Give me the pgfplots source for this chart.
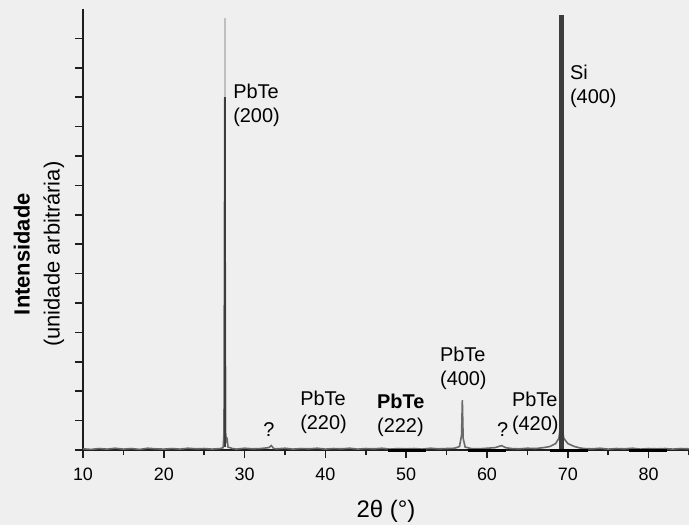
\documentclass[border=0pt]{standalone}
\usepackage{fontspec}
\setmainfont{Liberation Sans}
\usepackage{pgfplots}
\pgfplotsset{compat=1.18}
\definecolor{bg}{RGB}{239,239,239}
\definecolor{trace}{RGB}{105,105,105}
\definecolor{peak}{RGB}{60,60,60}
\definecolor{axcol}{RGB}{30,30,30}

\begin{document}
\begin{tikzpicture}
\fill[bg] (0,0) rectangle (344.5bp,262.5bp);
\begin{axis}[
  at={(41.5bp,37.5bp)}, anchor=south west,
  scale only axis, width=303bp, height=220.5bp,
  xmin=10, xmax=85, ymin=0, ymax=15,
  axis x line=bottom, axis y line=left,
  axis line style={axcol, line width=0.8bp, -},
  xtick={10,20,...,80}, minor xtick={15,25,...,85},
  ytick={0,...,14}, yticklabels={},
  tick align=outside,
  major tick length=4bp, minor tick length=2.5bp,
  tick style={axcol, line width=0.8bp},
  /pgf/number format/assume math mode=true,
  xticklabel style={font=\fontsize{9}{10}\selectfont, yshift=-1.5bp},
  xlabel={2θ (°)},
  xlabel style={font=\fontsize{12}{14}\selectfont, at={(rel axis cs:0.5,0)}, anchor=center, yshift=-30.5bp},
  ylabel={\textbf{Intensidade}\\(unidade arbitrária)},
  ylabel style={font=\fontsize{11}{15}\selectfont, align=center, at={(rel axis cs:0,0.444)}, anchor=center, yshift=22bp},
  clip=false,
  every node/.style={font=\fontsize{10.5}{13.5}\selectfont},
]
% measured pattern (baseline + peaks)
\addplot[trace, line width=0.8bp] coordinates {
  (10,0.04) (11,0.02) (12,0.05) (13,0.03) (14,0.06) (15,0.03) (16,0.05)
  (17,0.02) (18,0.06) (19,0.04) (20,0.03) (21,0.05) (22,0.03) (23,0.06)
  (24,0.04) (25,0.05) (26,0.03) (27,0.05) (27.35,0.08) (27.45,0.6)
  (27.55,12.0) (27.65,0.6) (27.75,0.3) (27.85,0.35) (27.95,0.1) (28.5,0.05)
  (29,0.03) (30,0.06) (31,0.04) (32,0.05) (33,0.08) (33.3,0.15) (33.6,0.05)
  (34,0.04) (35,0.06) (36,0.03) (37,0.05) (38,0.04) (39,0.06) (40,0.03)
  (41,0.05) (42,0.04) (43,0.06) (44,0.03) (45,0.05) (46,0.04) (47,0.06)
  (48,0.03) (49,0.05) (50,0.04) (51,0.05) (52,0.03) (53,0.06) (54,0.04)
  (55,0.05) (56,0.06) (56.6,0.12) (56.85,0.5) (56.95,1.7) (57.05,0.4)
  (57.3,0.1) (58,0.05) (59,0.04) (60,0.06) (61,0.08) (61.8,0.15) (62.3,0.08)
  (63,0.05) (64,0.04) (65,0.06) (66,0.05) (67,0.08) (67.8,0.12) (68.5,0.22)
  (68.9,0.4) (69.2,1.0) (69.5,0.4) (70,0.22) (70.8,0.12) (71.5,0.07)
  (72,0.05) (73,0.04) (74,0.06) (75,0.03) (76,0.05) (77,0.04) (78,0.06)
  (79,0.03) (80,0.05) (81,0.04) (82,0.05) (83,0.03) (84,0.05) (85,0.04)};
% faint top of PbTe(200)
\addplot[black!25, line width=0.8bp] coordinates {(27.55,12.0) (27.55,14.7)};
\addplot[peak, line width=1bp] coordinates {(27.55,0.1) (27.55,12.0)};
% Si(400) substrate peak
\addplot[peak, line width=2.5bp] coordinates {(69.2,0.05) (69.2,14.8)};
% dark bars on the axis
\addplot[black, line width=1.5bp, unbounded coords=jump] coordinates {
  (47.7,-0.03) (52.4,-0.03) (nan,nan) (57.6,-0.03) (62.3,-0.03) (nan,nan)
  (67.8,-0.03) (72.5,-0.03) (nan,nan) (77.6,-0.03) (82.3,-0.03)};

\node[anchor=west, align=left, inner sep=0] at (axis cs:28.55,11.73) {PbTe\\(200)};
\node[anchor=west, align=left, inner sep=0] at (axis cs:70.23,12.38) {Si\\(400)};
\node[anchor=west, align=left, inner sep=0] at (axis cs:54.15,2.79) {PbTe\\(400)};
\node[anchor=west, align=left, inner sep=0] at (axis cs:36.84,1.29) {PbTe\\(220)};
\node[anchor=west, align=left, inner sep=0] at (axis cs:46.36,1.19) {\textbf{PbTe}\\(222)};
\node[anchor=west, align=left, inner sep=0] at (axis cs:63.05,1.24) {PbTe\\(420)};
\node[anchor=center, inner sep=0] at (axis cs:33.0,0.71) {?};
\node[anchor=center, inner sep=0] at (axis cs:61.94,0.68) {?};
\end{axis}
\pgfresetboundingbox
\path[use as bounding box] (0,0) rectangle (344.5bp,262.5bp);
\end{tikzpicture}
\end{document}
